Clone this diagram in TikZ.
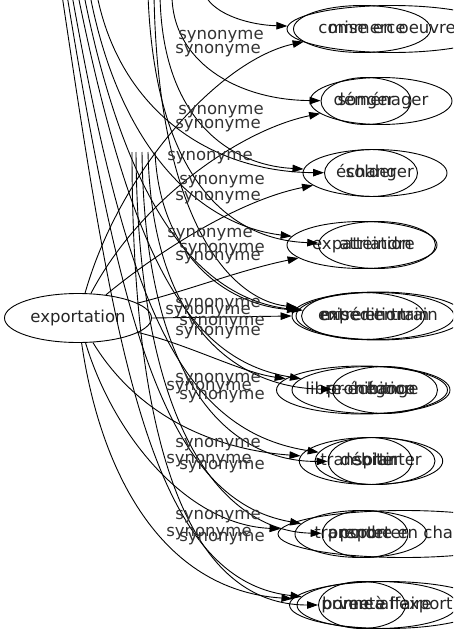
\documentclass[tikz,border=0pt]{standalone}
\usepackage{fontspec}
\newfontfamily\wordfont{DejaVu Sans}
\usetikzlibrary{arrows.meta,shapes.geometric}
\tikzset{
  word/.style={ellipse, draw, inner sep=0pt, minimum height=47pt, text height=12pt, text depth=3.5pt,
    font=\wordfont\fontsize{16.5}{19}\selectfont, text=black!85},
  lbl/.style={inner sep=0pt, font=\wordfont\fontsize{16.5}{19}\selectfont, text=black!80},
  syn/.style={-{Triangle[length=11pt,width=7.5pt]}},
}

\begin{document}
\begin{tikzpicture}[x=1pt, y=-1pt, line width=0.9pt]
\useasboundingbox (0,0) rectangle (453,635);
\clip (0,0) rectangle (453,635);

\node[word, minimum width=147pt, minimum height=49pt] (ex) at (78,318) {exportation};

% right column, rows of stacked words
\node[word, minimum width=210pt] (n1b) at (392,29) {mise en oeuvre};
\node[word, minimum width=137pt] (n1a) at (362,29) {commerce};
\node[word, minimum width=142pt] (n2a) at (381,101) {déménager};
\node[word, minimum width=90pt] (n2b) at (366,101) {songer};
\node[word, minimum width=144pt] (n3a) at (375,173) {échanger};
\node[word, minimum width=93pt] (n3b) at (371,173) {solder};
\node[word, minimum width=150pt] (n4a) at (362,245) {expatriation};
\node[word, minimum width=117pt] (n4b) at (377,245) {atteindre};
\node[word, minimum width=172pt, minimum height=48pt] (n5b) at (378,316) {entrer en train};
\node[word, minimum width=158pt] (n5c) at (375,316) {mise en train};
\node[word, minimum width=107pt] (n5a) at (363,316) {expédition};
\node[word, minimum width=171pt, minimum height=48pt] (n6a) at (362,390) {libre-échange};
\node[word, minimum width=158pt] (n6b) at (371,390) {prohibition};
\node[word, minimum width=105pt] (n6c) at (385,390) {négoce};
\node[word, minimum width=138pt] (n7a) at (371,461) {transplanter};
\node[word, minimum width=120pt] (n7b) at (375,461) {sortir};
\node[word, minimum width=84pt] (n7c) at (370,461) {débiter};
\node[word, minimum width=252pt] (n8a) at (404,534) {prendre en charge};
\node[word, minimum width=132pt] (n8b) at (361,534) {transporter};
\node[word, minimum width=86pt] (n8c) at (365,534) {porter};
\node[word, minimum width=195pt] (n9c) at (387,605) {prime à l'export};
\node[word, minimum width=160pt] (n9b) at (377,605) {bonne affaire};
\node[word, minimum width=87pt] (n9a) at (362,605) {vente};

% ends of edges coming from above the frame
\coordinate (top1) at (62,-5);
\coordinate (top2) at (67,-5);
\coordinate (top3) at (72,-5);
\coordinate (top4) at (78,-5);
\coordinate (top5) at (84,-5);
\coordinate (top6) at (90,-5);
\coordinate (top7) at (97,-5);
\coordinate (topB1) at (148,-5);
\coordinate (topB2) at (154,-5);
\coordinate (topB3) at (160,-5);
\coordinate (topB4) at (172,-5);
\coordinate (topC) at (205,-5);
\coordinate (cut1) at (132,152);
\coordinate (cut2) at (136,152);
\coordinate (cut3) at (142,152);
\coordinate (cut4) at (148,152);
\coordinate (cut5) at (155,152);

\draw[syn] (topC) .. controls (215,15) and (250,25) .. (n1b);
\draw[syn] (ex) .. controls (120,170) and (220,60) .. (n1a);
\draw[syn] (topB4) .. controls (172,60) and (235,100) .. (n2b);
\draw[syn] (ex) .. controls (140,200) and (240,130) .. (n2a);
\draw[syn] (top7) .. controls (120,110) and (210,172) .. (n3b);
\draw[syn] (topB3) .. controls (162,120) and (230,165) .. (n3a);
\draw[syn] (ex) .. controls (160,250) and (240,200) .. (n3a);
\draw[syn] (topB1) .. controls (155,180) and (230,240) .. (n4b);
\draw[syn] (top6) .. controls (120,150) and (200,225) .. (n4a);
\draw[syn] (ex) .. controls (190,290) and (240,270) .. (n4a);
\draw[syn] (ex.east) -- (n5b.west);
\draw[syn] (top5) .. controls (125,200) and (195,300) .. (n5a);
\draw[syn] (topB2) .. controls (158,220) and (230,300) .. (n5b);
\draw[syn] (cut5) .. controls (160,260) and (230,305) .. (n5c);
\draw[syn] (ex) .. controls (190,345) and (240,372) .. (n6a);
\draw[syn] (top4) .. controls (130,250) and (185,360) .. (n6b);
\draw[syn] (cut4) .. controls (152,330) and (240,388) .. (n6c);
\draw[syn] (ex) .. controls (140,420) and (220,450) .. (n7a);
\draw[syn] (top3) .. controls (125,290) and (175,430) .. (n7b);
\draw[syn] (cut3) .. controls (145,400) and (240,462) .. (n7c);
\draw[syn] (ex) .. controls (115,440) and (190,525) .. (n8a);
\draw[syn] (top2) .. controls (120,320) and (165,500) .. (n8b);
\draw[syn] (cut2) .. controls (138,460) and (240,532) .. (n8c);
\draw[syn] (ex) .. controls (100,470) and (160,590) .. (n9c);
\draw[syn] (top1) .. controls (115,350) and (150,580) .. (n9b);
\draw[syn] (cut1) .. controls (132,520) and (220,605) .. (n9a);

% relation labels
\foreach \x/\y [count=\i] in {221/37, 218/51, 221/112, 218/126, 210/158, 222/182, 218/198,
    210/235, 222/250, 218/258, 218/305, 208/312, 222/323, 218/333, 218/380, 209/388,
    222/397, 218/445, 209/461, 222/467, 218/517, 209/534, 222/539}
  \node[lbl] (lab\i) at (\x,\y) {synonyme};
\end{tikzpicture}
\end{document}
